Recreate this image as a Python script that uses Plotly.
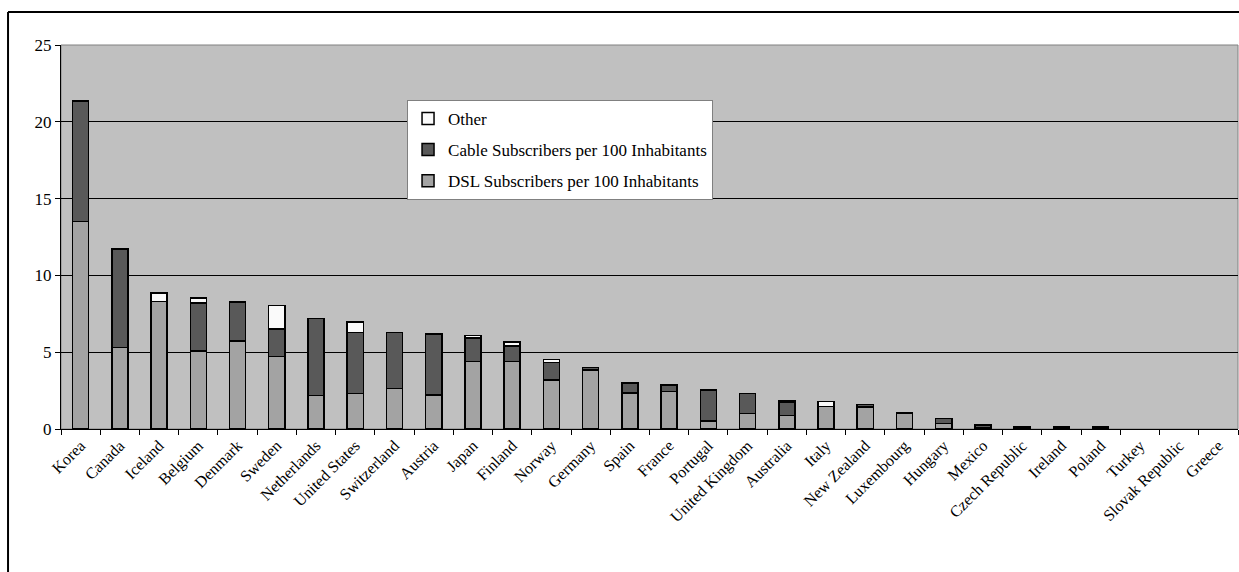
import plotly.graph_objects as go

countries = ["Korea", "Canada", "Iceland", "Belgium", "Denmark", "Sweden", "Netherlands",
             "United States", "Switzerland", "Austria", "Japan", "Finland", "Norway", "Germany",
             "Spain", "France", "Portugal", "United Kingdom", "Australia", "Italy", "New Zealand",
             "Luxembourg", "Hungary", "Mexico", "Czech Republic", "Ireland", "Poland", "Turkey",
             "Slovak Republic", "Greece"]
dsl = [13.5, 5.3, 8.29, 5.08, 5.73, 4.73, 2.19, 2.30, 2.63, 2.22, 4.39, 4.39, 3.20, 3.85,
       2.33, 2.43, 0.52, 1.02, 0.87, 1.48, 1.43, 1.04, 0.37, 0.05, 0.08, 0.10, 0.10, 0.0, 0.0, 0.0]
cable = [7.85, 6.42, 0.0, 3.12, 2.50, 1.78, 4.99, 3.97, 3.66, 3.98, 1.55, 1.02, 1.13, 0.15,
         0.65, 0.44, 2.02, 1.28, 0.90, 0.0, 0.15, 0.0, 0.32, 0.21, 0.07, 0.05, 0.05, 0.0, 0.0, 0.0]
other = [0.0, 0.0, 0.56, 0.33, 0.06, 1.54, 0.0, 0.70, 0.0, 0.0, 0.15, 0.24, 0.21, 0.0,
         0.0, 0.0, 0.0, 0.0, 0.10, 0.32, 0.0, 0.0, 0.0, 0.0, 0.0, 0.0, 0.0, 0.0, 0.0, 0.0]

names = ["DSL Subscribers per 100 Inhabitants", "Cable Subscribers per 100 Inhabitants", "Other"]
colors = ["#a3a3a3", "#595959", "#fafafa"]
ranks = [3, 2, 1]
FONT = "Liberation Serif, Times New Roman, serif"

fig = go.Figure()
for i, (vals, name, col, rk) in enumerate(zip([dsl, cable, other], names, colors, ranks)):
    yv = [v if v > 0 else None for v in vals]
    fig.add_trace(go.Bar(x=countries, y=yv, name=name, marker_color=col,
                         legendgroup=f"g{i}", legendrank=rk,
                         marker_line_color="black", marker_line_width=1.5))

fig.update_layout(
    barmode="stack", bargap=0.59,
    width=1239, height=572,
    margin=dict(l=61, r=1, t=45, b=143),
    paper_bgcolor="white", plot_bgcolor="#c0c0c0",
    font=dict(family=FONT, color="black", size=16),
    legend=dict(x=0.294, y=0.857, xanchor="left", yanchor="top",
                bgcolor="white", bordercolor="#808080", borderwidth=1,
                traceorder="grouped", tracegroupgap=6,
                itemwidth=30,
                font=dict(size=17, family=FONT, color="black")),
    xaxis=dict(tickangle=-45, tickfont=dict(size=16, family=FONT, color="black"),
               ticks="outside", ticklen=5, tickcolor="black", tickson="boundaries",
               showline=True, linecolor="black", linewidth=1, showgrid=False),
    yaxis=dict(range=[0, 25], dtick=5, tickfont=dict(size=17, family=FONT, color="black"),
               ticks="outside", ticklen=5, tickcolor="black",
               showline=True, linecolor="black", linewidth=1,
               showgrid=True, gridcolor="black", gridwidth=1, zeroline=False),
    shapes=[
        dict(type="rect", xref="paper", yref="paper", x0=0, x1=1, y0=0, y1=1,
             line=dict(color="#808080", width=1), layer="below"),
        dict(type="line", xref="paper", yref="paper", x0=-0.045, x1=-0.045, y0=1.086, y1=-0.5,
             line=dict(color="black", width=2)),
        dict(type="line", xref="paper", yref="paper", x0=-0.045, x1=1.01, y0=1.086, y1=1.086,
             line=dict(color="black", width=2)),
    ],
)

fig.write_html("out.html")
